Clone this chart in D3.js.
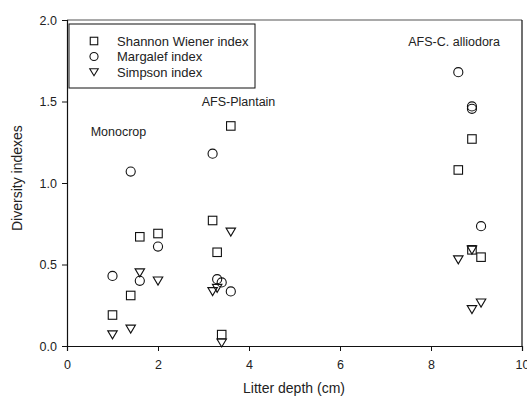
<!DOCTYPE html>
<html>
<head>
<meta charset="utf-8">
<script src="https://cdn.jsdelivr.net/npm/d3@7"></script>
<style>
  html, body { margin: 0; padding: 0; background: #fff; }
  svg text { font-family: "Liberation Sans", Arial, sans-serif; fill: #222; }
</style>
</head>
<body>
<div id="chart"></div>
<script>
// Litter depth (cm) per sample
const depth = [1.0, 1.4, 1.6, 2.0, 3.2, 3.3, 3.4, 3.6, 8.6, 8.9, 8.9, 9.1];
// Diversity index values per sample
const shannon = [0.19, 0.31, 0.67, 0.69, 0.77, 0.575, 0.07, 1.35, 1.08, 1.27, 0.59, 0.545];
const margalef = [0.43, 1.07, 0.40, 0.61, 1.18, 0.41, 0.39, 0.335, 1.68, 1.47, 1.455, 0.735];
const simpson = [0.07, 0.105, 0.45, 0.40, 0.335, 0.355, 0.02, 0.70, 0.53, 0.59, 0.225, 0.265];

const seriesNames = ["Shannon Wiener index", "Margalef index", "Simpson index"];
const xTicks = [0, 2, 4, 6, 8, 10];
const yTicks = [0.0, 0.5, 1.0, 1.5, 2.0];

const groupLabels = [
  { text: "Monocrop", x: 0.52, y: 1.29 },
  { text: "AFS-Plantain", x: 2.96, y: 1.47 },
  { text: "AFS-C. alliodora", x: 7.5, y: 1.84 }
];

const W = 527, H = 398;
const margin = { top: 20, right: 5, bottom: 52, left: 67 };
const plotH = H - margin.top - margin.bottom;

const svg = d3.select("#chart").append("svg")
  .attr("width", W).attr("height", H);

const g = svg.append("g")
  .attr("transform", "translate(" + margin.left + "," + margin.top + ")");

const x = d3.scaleLinear().domain([0, 10]).range([0, 455]);
const y = d3.scaleLinear().domain([0, 2]).range([plotH, 0]);

// frame (top and right)
g.append("line").attr("x1", 0).attr("x2", x(10)).attr("y1", 0).attr("y2", 0)
  .attr("stroke", "#555").attr("stroke-width", 1.2);
g.append("line").attr("x1", x(10)).attr("x2", x(10)).attr("y1", 0).attr("y2", plotH)
  .attr("stroke", "#111").attr("stroke-width", 1.2);

const xAxis = g.append("g")
  .attr("transform", "translate(0," + plotH + ")")
  .call(d3.axisBottom(x).tickValues(xTicks).tickSize(5).tickPadding(9).tickFormat(d3.format("d")));
const yAxis = g.append("g")
  .call(d3.axisLeft(y).tickValues(yTicks).tickSize(5).tickPadding(5).tickFormat(d3.format(".1f")));

[xAxis, yAxis].forEach(function (a) {
  a.select(".domain").attr("stroke", "#111").attr("stroke-width", 1.2);
  a.selectAll(".tick line").attr("stroke", "#111");
  a.selectAll("text").style("font-size", "12.5px")
    .style("font-family", "'Liberation Sans', Arial, sans-serif").attr("fill", "#222");
});

// axis titles
svg.append("text")
  .attr("x", 294).attr("y", 393)
  .attr("text-anchor", "middle").style("font-size", "14px")
  .text("Litter depth (cm)");
svg.append("text")
  .attr("transform", "translate(22," + (margin.top + y(1.03)) + ") rotate(-90)")
  .attr("text-anchor", "middle").style("font-size", "14px")
  .text("Diversity indexes");

// symbol drawing
function drawSymbol(sel, kind, cx, cy, s) {
  const h = s / 2;
  if (kind === 0) {
    sel.append("rect").attr("x", cx - h).attr("y", cy - h)
      .attr("width", s).attr("height", s)
      .attr("fill", "none").attr("stroke", "#111").attr("stroke-width", 1.1);
  } else if (kind === 1) {
    sel.append("circle").attr("cx", cx).attr("cy", cy).attr("r", h + 0.3)
      .attr("fill", "none").attr("stroke", "#111").attr("stroke-width", 1.1);
  } else {
    sel.append("path")
      .attr("d", "M" + (cx - h - 0.5) + "," + (cy - h + 0.5) + "L" + (cx + h + 0.5) + "," + (cy - h + 0.5) + "L" + cx + "," + (cy + h) + "Z")
      .attr("fill", "none").attr("stroke", "#111").attr("stroke-width", 1.1);
  }
}

const series = [shannon, margalef, simpson];
series.forEach(function (vals, k) {
  const sg = g.append("g");
  vals.forEach(function (v, i) {
    drawSymbol(sg, k, x(depth[i]), y(v), 8.5);
  });
});

// group labels
g.selectAll(".glabel").data(groupLabels).enter().append("text")
  .attr("x", function (d) { return x(d.x); })
  .attr("y", function (d) { return y(d.y); })
  .style("font-size", "12.5px")
  .text(function (d) { return d.text; });

// legend
const lg = g.append("g").attr("transform", "translate(2,4)");
lg.append("rect").attr("width", 186).attr("height", 64)
  .attr("fill", "#fff").attr("stroke", "#111").attr("stroke-width", 1);
seriesNames.forEach(function (name, k) {
  const ry = 17 + k * 15.5;
  drawSymbol(lg, k, 25, ry, 7.5);
  lg.append("text").attr("x", 48).attr("y", ry + 4.5)
    .style("font-size", "13px").text(name);
});
</script>
</body>
</html>
